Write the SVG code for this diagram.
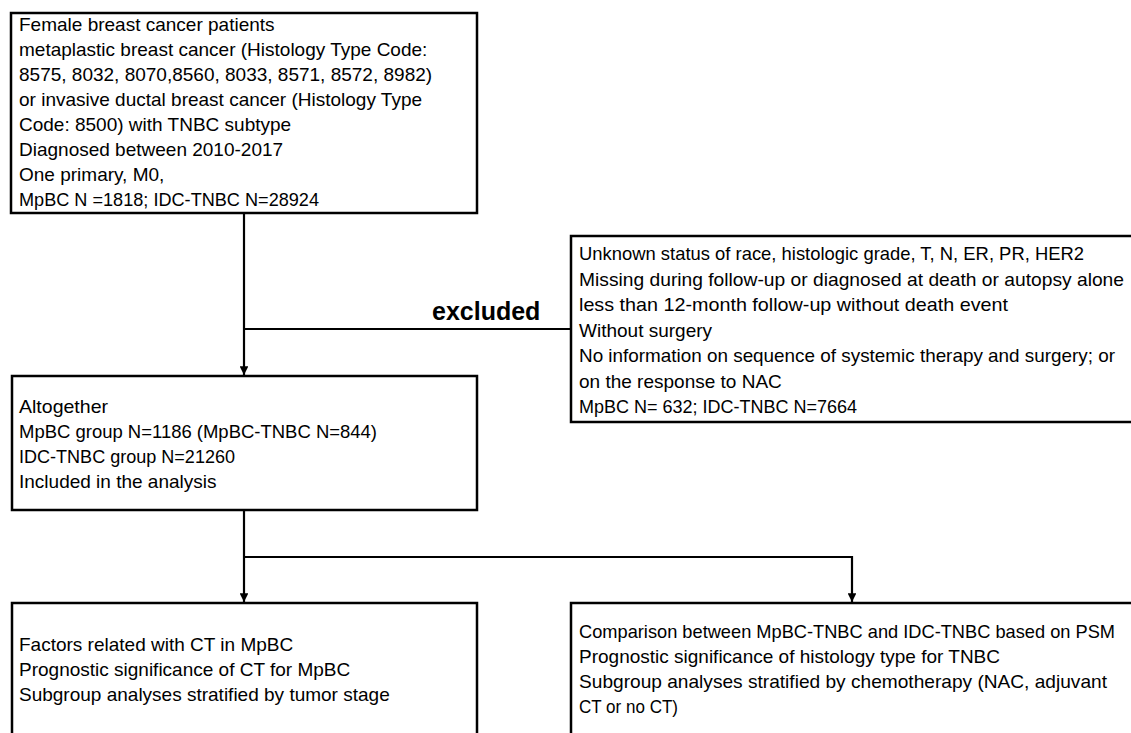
<svg xmlns="http://www.w3.org/2000/svg" width="1131" height="733" viewBox="0 0 1131 733">
<style>
.box{fill:#fff;stroke:#000;stroke-width:2.5}
.t{font-family:"Liberation Sans",Arial,sans-serif;font-size:19px;fill:#000}
.b{font-family:"Liberation Sans",Arial,sans-serif;font-size:25px;font-weight:bold;fill:#000}
.c{fill:none;stroke:#000;stroke-width:2.2}
</style>
<defs>
<marker id="ah" viewBox="0 0 10 10" refX="10" refY="5" markerWidth="4" markerHeight="4" orient="auto" markerUnits="strokeWidth">
<path d="M0,0 L10,5 L0,10 z" fill="#000"/>
</marker>
</defs>
<rect width="1131" height="733" fill="#fff"/>
<g id="connectors">
<line class="c" x1="244" y1="213" x2="244" y2="375" marker-end="url(#ah)"/>
<line class="c" x1="244" y1="329" x2="571" y2="329"/>
<line class="c" x1="244" y1="510" x2="244" y2="602" marker-end="url(#ah)"/>
<polyline class="c" points="244,557 852,557 852,602" marker-end="url(#ah)"/>
<text class="b" x="432" y="320">excluded</text>
</g>
<g id="n1">
<rect class="box" x="11" y="13" width="466" height="200"/>
<text class="t" x="19" y="31">Female breast cancer patients</text>
<text class="t" x="19" y="56">metaplastic breast cancer (Histology Type Code:</text>
<text class="t" x="19" y="81">8575, 8032, 8070,8560,  8033, 8571, 8572, 8982)</text>
<text class="t" x="19" y="106">or invasive ductal breast cancer (Histology Type</text>
<text class="t" x="19" y="131">Code: 8500) with TNBC subtype</text>
<text class="t" x="19" y="156">Diagnosed between 2010-2017</text>
<text class="t" x="19" y="181">One primary, M0,</text>
<text class="t" x="19" y="206" textLength="300" lengthAdjust="spacingAndGlyphs">MpBC N =1818; IDC-TNBC N=28924</text>
</g>
<g id="n2">
<rect class="box" x="571" y="236" width="570" height="186"/>
<text class="t" x="579" y="260" textLength="505" lengthAdjust="spacingAndGlyphs">Unknown status of race, histologic grade, T, N, ER, PR, HER2</text>
<text class="t" x="579" y="285.5" textLength="545" lengthAdjust="spacingAndGlyphs">Missing during follow-up or diagnosed at death or autopsy alone</text>
<text class="t" x="579" y="311" textLength="429" lengthAdjust="spacingAndGlyphs">less than 12-month follow-up without death event</text>
<text class="t" x="579" y="336.5">Without surgery</text>
<text class="t" x="579" y="362" textLength="536" lengthAdjust="spacingAndGlyphs">No information on sequence of systemic therapy and surgery; or</text>
<text class="t" x="579" y="387.5">on the response to NAC</text>
<text class="t" x="579" y="413" textLength="278" lengthAdjust="spacingAndGlyphs">MpBC N= 632; IDC-TNBC N=7664</text>
</g>
<g id="n3">
<rect class="box" x="12" y="376" width="465" height="134"/>
<text class="t" x="19" y="413" textLength="89" lengthAdjust="spacingAndGlyphs">Altogether</text>
<text class="t" x="19" y="438" textLength="358" lengthAdjust="spacingAndGlyphs">MpBC group N=1186 (MpBC-TNBC N=844)</text>
<text class="t" x="19" y="463" textLength="216" lengthAdjust="spacingAndGlyphs">IDC-TNBC group N=21260</text>
<text class="t" x="19" y="488">Included in the analysis</text>
</g>
<g id="n4">
<rect class="box" x="12" y="603" width="465" height="150"/>
<text class="t" x="19" y="651">Factors related with CT in MpBC</text>
<text class="t" x="19" y="676">Prognostic significance of CT for MpBC</text>
<text class="t" x="19" y="701">Subgroup analyses stratified by tumor stage</text>
</g>
<g id="n5">
<rect class="box" x="571" y="603" width="570" height="150"/>
<text class="t" x="579" y="638" style="font-size:18.2px" textLength="536" lengthAdjust="spacingAndGlyphs">Comparison between MpBC-TNBC and IDC-TNBC based on PSM</text>
<text class="t" x="579" y="663">Prognostic significance of histology type for TNBC</text>
<text class="t" x="579" y="688" textLength="528" lengthAdjust="spacingAndGlyphs">Subgroup analyses stratified by chemotherapy (NAC, adjuvant</text>
<text class="t" x="579" y="713" textLength="99" lengthAdjust="spacingAndGlyphs">CT or no CT)</text>
</g>
</svg>
